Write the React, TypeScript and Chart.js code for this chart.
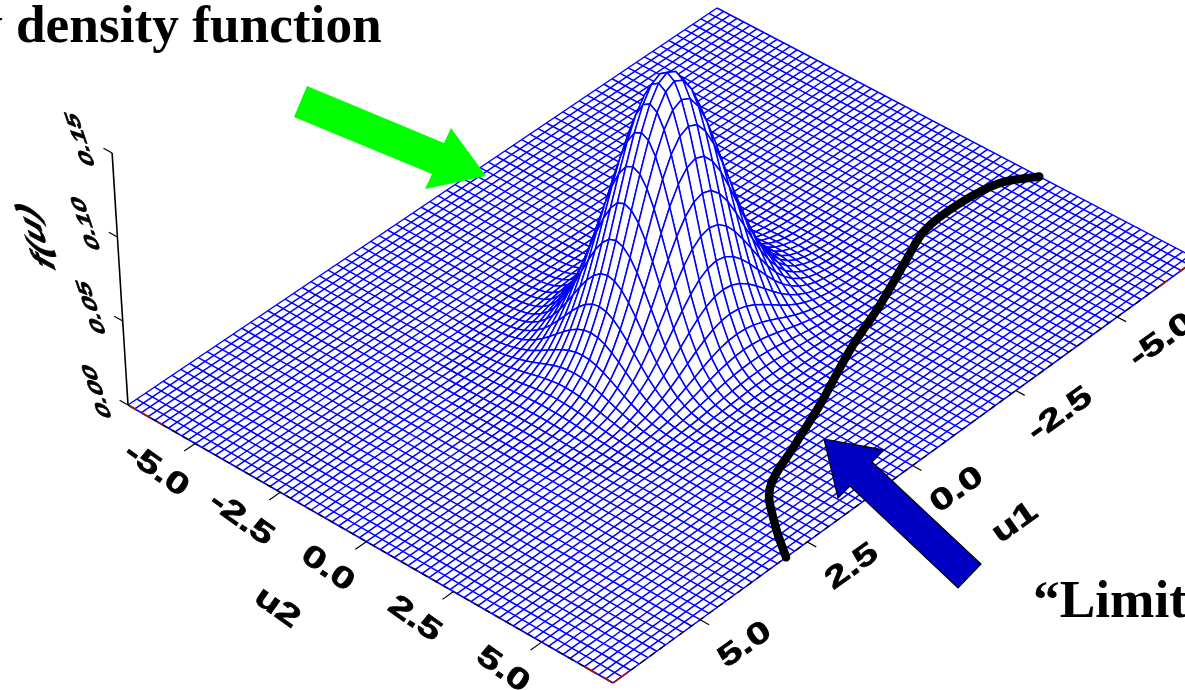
import React, { useEffect, useRef } from "react";
import { Chart, registerables } from "chart.js";

Chart.register(...registerables);

// Grid of the surface (both horizontal axes share it)
const gridU = [
  -7.0, -6.8, -6.6, -6.4, -6.2, -6.0, -5.8, -5.6, -5.4, -5.2, -5.0, -4.8, -4.6, -4.4, -4.2, -4.0, -3.8, -3.6,
  -3.4, -3.2, -3.0, -2.8, -2.6, -2.4, -2.2, -2.0, -1.8, -1.6, -1.4, -1.2, -1.0, -0.8, -0.6, -0.4, -0.2, 0.0,
  0.2, 0.4, 0.6, 0.8, 1.0, 1.2, 1.4, 1.6, 1.8, 2.0, 2.2, 2.4, 2.6, 2.8, 3.0, 3.2, 3.4, 3.6, 3.8, 4.0, 4.2,
  4.4, 4.6, 4.8, 5.0, 5.2, 5.4, 5.6, 5.8, 6.0, 6.2, 6.4, 6.6, 6.8, 7.0,
];
// Marginal density read along each horizontal axis; f(u) is their product
const marginal = [
  0, 0, 0, 0, 0, 0, 0, 0, 0, 0, 0, 0, 0, 0, 0, 0.0001, 0.0003, 0.0006, 0.0012, 0.0024, 0.0043, 0.0078, 0.0134,
  0.022, 0.035, 0.053, 0.078, 0.109, 0.147, 0.191, 0.238, 0.285, 0.328, 0.3625, 0.385, 0.3926, 0.385,
  0.3625, 0.328, 0.285, 0.238, 0.191, 0.147, 0.109, 0.078, 0.053, 0.035, 0.022, 0.0134, 0.0078, 0.0043,
  0.0024, 0.0012, 0.0006, 0.0003, 0.0001, 0, 0, 0, 0, 0, 0, 0, 0, 0, 0, 0, 0, 0, 0, 0,
];
// "Limit state" curve on the base plane
const limitU1 = [-7.0, -6.45, -5.62, -4.7, -3.85, -2.74, -1.56, -0.19, 0.83, 1.89, 2.52, 3.0];
const limitU2 = [2.5, 2.0, 1.81, 1.86, 2.28, 2.86, 3.4, 4.16, 4.66, 5.22, 6.12, 7.0];

const uTicks = [-5, -2.5, 0, 2.5, 5];
const uTickLabels = ["-5.0", "-2.5", "0.0", "2.5", "5.0"];
const fTicks = [0, 0.05, 0.1, 0.15];
const fTickLabels = ["0.00", "0.05", "0.10", "0.15"];

const titleText = "y density function";
const limitText = "\u201CLimit";
const u1Title = "u1";
const u2Title = "u2";
const fTitle = "f(u)";

// Red end pieces of the front edges: [u1 from, u2 from, u1 to, u2 to]
const redPieces = [
  [7, -6.95, 7, -6.75], [7, -6.6, 7, -6.35], [7, -6.1, 7, -5.95],
  [7, 6.2, 7, 6.55], [7, 6.7, 7, 6.98], [6.65, 7, 6.98, 7],
  [-6.25, 7, -6.05, 7], [-6.85, 7, -6.55, 7],
];

// Annotation arrows, in page units
const greenArrowX = [307, 294, 432, 425, 486, 451, 444, 307];
const greenArrowY = [86, 117, 174, 189, 176, 128, 143, 86];
const blueArrowX = [824, 884, 872, 981, 958, 850, 838, 824];
const blueArrowY = [439, 450, 462, 564, 588, 486, 498, 439];

// View: where the four base corners land
const corner = { top: [717, 8], left: [128, 405], right: [1197, 259], bottom: [613, 683] };
const BLUE = "#0000ff";
const MESH_WIDTH = 1.5;
const F_SCALE = 1680;
const LEAN = 1.17e-4;
const CX = 667;

const sx = corner.top[0] - corner.left[0] + corner.bottom[0] - corner.right[0];
const sy = corner.top[1] - corner.left[1] + corner.bottom[1] - corner.right[1];
const dx1 = corner.left[0] - corner.bottom[0];
const dx2 = corner.right[0] - corner.bottom[0];
const dy1 = corner.left[1] - corner.bottom[1];
const dy2 = corner.right[1] - corner.bottom[1];
const det = dx1 * dy2 - dx2 * dy1;
const g = (sx * dy2 - dx2 * sy) / det;
const h = (dx1 * sy - sx * dy1) / det;

function project(u1: number, u2: number, f = 0) {
  const s = (u1 + 7) / 14;
  const t = (u2 + 7) / 14;
  const w = 1 + g * s + h * t;
  const x = (corner.top[0] + (corner.left[0] - corner.top[0] + g * corner.left[0]) * s + (corner.right[0] - corner.top[0] + h * corner.right[0]) * t) / w;
  const y = (corner.top[1] + (corner.left[1] - corner.top[1] + g * corner.left[1]) * s + (corner.right[1] - corner.top[1] + h * corner.right[1]) * t) / w;
  const H = f * F_SCALE;
  return { x: x + (x - CX) * LEAN * H, y: y - H };
}

function lineSet(data: { x: number; y: number }[], color: string, width: number, extra: object = {}) {
  return { type: "scatter", data, showLine: true, pointRadius: 0, borderColor: color, borderWidth: width, fill: false, tension: 0, clip: false, ...extra };
}

function buildDatasets() {
  const paint: any[] = [];
  const n = gridU.length;
  // base mesh
  for (const v of gridU) {
    paint.push(lineSet([project(v, -7), project(v, 7)], BLUE, MESH_WIDTH));
    paint.push(lineSet([project(-7, v), project(7, v)], BLUE, MESH_WIDTH));
  }
  // raised part of the surface, far cells first so near ones hide them
  const fAt = (i: number, j: number) => marginal[i] * marginal[j];
  for (let i = 0; i < n - 1; i++) {
    for (let j = 0; j < n - 1; j++) {
      const top = Math.max(fAt(i, j), fAt(i + 1, j), fAt(i, j + 1), fAt(i + 1, j + 1));
      if (top < 0.0001) continue;
      const a = project(gridU[i], gridU[j], fAt(i, j));
      const b = project(gridU[i + 1], gridU[j], fAt(i + 1, j));
      const c = project(gridU[i + 1], gridU[j + 1], fAt(i + 1, j + 1));
      const d = project(gridU[i], gridU[j + 1], fAt(i, j + 1));
      paint.push(lineSet([a, b, c, d, a], BLUE, MESH_WIDTH, { fill: "shape", backgroundColor: "#ffffff" }));
    }
  }
  // front edges and ticks
  paint.push(lineSet([project(7, -6.3), project(7, 6.2)], "#000000", 1.3, { borderDash: [6, 6] }));
  paint.push(lineSet([project(6.6, 7), project(-6.2, 7)], "#000000", 1.3, { borderDash: [6, 6] }));
  for (const r of redPieces) paint.push(lineSet([project(r[0], r[1]), project(r[2], r[3])], "#a01010", 1.8));
  for (const v of uTicks) {
    paint.push(lineSet([project(7, v), project(7.25, v)], "#000000", 1.2));
    paint.push(lineSet([project(v, 7), project(v, 7.25)], "#000000", 1.2));
  }
  // vertical axis
  paint.push(lineSet([project(7, -7, 0), project(7, -7, fTicks[fTicks.length - 1])], "#000000", 1.6));
  for (const v of fTicks) paint.push(lineSet([project(7, -7, v), project(7, -7.25, v)], "#000000", 1.2));
  // limit curve
  paint.push(lineSet(limitU1.map((u, i) => project(u, limitU2[i])), "#000000", 8.5, { tension: 0.35, borderJoinStyle: "round", borderCapStyle: "round" }));
  // arrows
  paint.push(lineSet(greenArrowX.map((x, i) => ({ x, y: greenArrowY[i] })), "#00ff00", 0, { fill: "shape", backgroundColor: "#00ff00" }));
  paint.push(lineSet(blueArrowX.map((x, i) => ({ x, y: blueArrowY[i] })), "#000000", 1.2, { fill: "shape", backgroundColor: "#0000c4" }));
  return paint.reverse(); // Chart.js paints the first dataset last
}

function skewText(ctx: CanvasRenderingContext2D, text: string, x: number, y: number, m: number[], font: string) {
  ctx.save();
  ctx.translate(x, y);
  ctx.transform(m[0], m[1], m[2], m[3], 0, 0);
  ctx.font = font;
  ctx.textAlign = "center";
  ctx.textBaseline = "middle";
  ctx.fillStyle = "#000000";
  ctx.strokeStyle = "#000000";
  ctx.lineWidth = 0.7;
  ctx.strokeText(text, 0, 0);
  ctx.fillText(text, 0, 0);
  ctx.restore();
}

const textPlugin = {
  id: "pageText",
  afterDraw(chart: any) {
    const ctx: CanvasRenderingContext2D = chart.ctx;
    const axisFont = "bold 30px 'Liberation Sans'";
    const down = [1.13, 0.8, -0.57, 0.82];
    const up = [1.13, -0.8, 0.57, 0.82];
    const side = [-0.42, -1.24, 0.92, 0.3];
    ctx.save();
    ctx.filter = "blur(0.6px)";
    uTicks.forEach((v, i) => {
      const p = project(7.88, v);
      skewText(ctx, uTickLabels[i], p.x, p.y, down, axisFont);
      const q = project(v, 8.25);
      skewText(ctx, uTickLabels[i], q.x, q.y, up, axisFont);
    });
    skewText(ctx, u2Title, 277, 608, down, axisFont);
    skewText(ctx, u1Title, 1015, 523, up, axisFont);
    fTicks.forEach((v, i) => {
      const p = project(7, -7.85, v);
      skewText(ctx, fTickLabels[i], p.x - 2, p.y + 3, side, "bold 22px 'Liberation Sans'");
    });
    skewText(ctx, fTitle, 37, 237, side, "italic bold 32px 'Liberation Sans'");
    ctx.restore();
    ctx.save();
    ctx.font = "bold 53.3px 'Liberation Serif'";
    ctx.fillStyle = "#000000";
    ctx.textBaseline = "alphabetic";
    ctx.fillText(titleText, -24, 42);
    ctx.fillText(limitText, 1033, 617);
    ctx.restore();
  },
};

export default function App() {
  const ref = useRef<HTMLCanvasElement>(null);
  useEffect(() => {
    document.body.style.margin = "0";
    const chart = new Chart(ref.current as HTMLCanvasElement, {
      type: "scatter",
      data: { datasets: buildDatasets() },
      options: {
        animation: false,
        responsive: false,
        events: [],
        layout: { padding: 0 },
        plugins: { legend: { display: false }, tooltip: { enabled: false } },
        scales: {
          x: { type: "linear", min: 0, max: 1185, display: false },
          y: { type: "linear", min: 0, max: 690, reverse: true, display: false },
        },
      },
      plugins: [textPlugin],
    } as any);
    return () => chart.destroy();
  }, []);
  return <canvas ref={ref} width={1185} height={690} style={{ display: "block" }} />;
}
